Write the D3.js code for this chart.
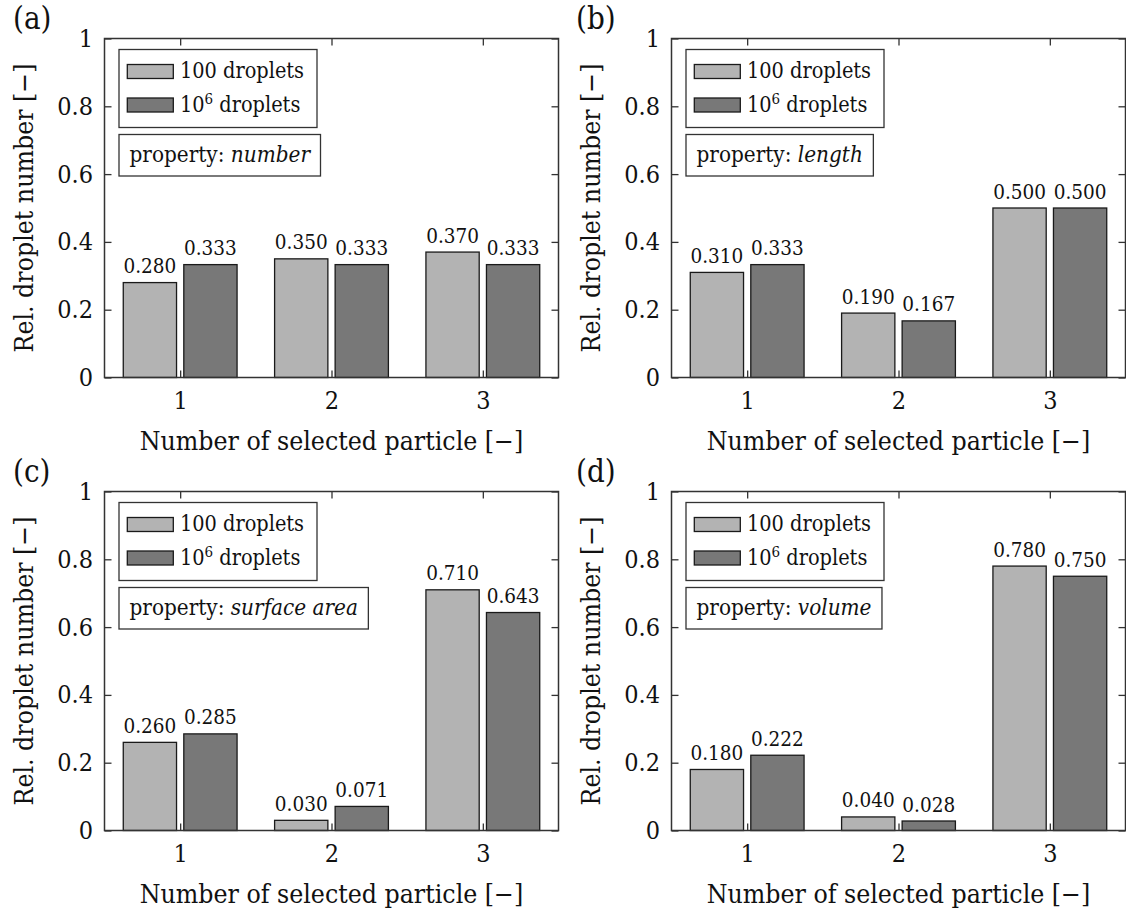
<!DOCTYPE html>
<html>
<head>
<meta charset="utf-8">
<script src="https://cdn.jsdelivr.net/npm/d3@7"></script>
<style>
  html, body { margin: 0; padding: 0; background: #fff; }
  svg { display: block; }
  text { font-family: "DejaVu Serif Condensed", "DejaVu Serif", serif; font-stretch: condensed; fill: #111; }
</style>
</head>
<body>
<svg id="chart" width="1126" height="914"></svg>
<script>
// Selected particle index (x categories)
const categories = [1, 2, 3];
// Tick values
const yTicks = [0, 0.2, 0.4, 0.6, 0.8, 1];
const seriesNames = ["100 droplets", "10^6 droplets"];

// Panel data: relative droplet number for each weighting property
const panelLetters = ["(a)", "(b)", "(c)", "(d)"];
const properties = ["number", "length", "surface area", "volume"];
const drops100 = [
  [0.280, 0.350, 0.370],
  [0.310, 0.190, 0.500],
  [0.260, 0.030, 0.710],
  [0.180, 0.040, 0.780]
];
const drops1e6 = [
  [0.333, 0.333, 0.333],
  [0.333, 0.167, 0.500],
  [0.285, 0.071, 0.643],
  [0.222, 0.028, 0.750]
];

const colors = ["#b3b3b3", "#787878"];

const W = 454, H = 339;
const lefts = [104.5, 671.5], tops = [38.5, 491.5];
const letterX = [13, 576];

const svg = d3.select("#chart");

function panel(idx) {
  const col = idx % 2, row = Math.floor(idx / 2);
  const ox = lefts[col], oy = tops[row];
  const g = svg.append("g").attr("transform", `translate(${ox},${oy})`);

  const x = d3.scaleLinear().domain([0.5, 3.5]).range([0, W]);
  const y = d3.scaleLinear().domain([0, 1]).range([H, 0]);

  // ticks (inward on all four sides)
  const styleAxis = sel => {
    sel.select(".domain").remove();
    sel.selectAll(".tick line").attr("stroke", "#333").attr("stroke-width", 1.3);
    sel.selectAll("text").attr("font-family", null).attr("fill", "#111");
  };
  g.append("g")
    .call(d3.axisLeft(y).tickValues(yTicks).tickSize(-7).tickPadding(11.5).tickFormat(d => String(d)))
    .call(styleAxis)
    .selectAll("text").attr("font-size", 25);
  g.append("g").attr("transform", `translate(${W},0)`)
    .call(d3.axisRight(y).tickValues(yTicks).tickSize(-7).tickFormat(""))
    .call(styleAxis);
  g.append("g")
    .call(d3.axisTop(x).tickValues(categories).tickSize(-7).tickFormat(""))
    .call(styleAxis);
  g.append("g").attr("transform", `translate(0,${H})`)
    .call(d3.axisBottom(x).tickValues(categories).tickSize(-7).tickPadding(14).tickFormat(d => String(d)))
    .call(styleAxis)
    .selectAll("text").attr("font-size", 25);

  // bars
  const bw = 0.352, off = 0.2;
  const series = [drops100[idx], drops1e6[idx]];
  series.forEach((vals, s) => {
    const cx = c => c + (s === 0 ? -off : off);
    const bars = g.append("g");
    bars.selectAll("rect").data(categories).join("rect")
      .attr("x", (c) => x(cx(c) - bw / 2))
      .attr("width", x(bw) - x(0))
      .attr("y", (c, i) => y(vals[i]))
      .attr("height", (c, i) => y(0) - y(vals[i]))
      .attr("fill", colors[s])
      .attr("stroke", "#1a1a1a")
      .attr("stroke-width", 1.3);
    bars.selectAll("text").data(categories).join("text")
      .attr("x", c => x(cx(c)))
      .attr("y", (c, i) => y(vals[i]) - 9.5)
      .attr("text-anchor", "middle")
      .attr("font-size", 20.5)
      .text((c, i) => vals[i].toFixed(3));
  });

  // frame
  g.append("rect").attr("width", W).attr("height", H)
    .attr("fill", "none").attr("stroke", "#333").attr("stroke-width", 1.5);

  // legend
  const lg = g.append("g").attr("transform", "translate(14.5,11)");
  lg.append("rect").attr("width", 198).attr("height", 78)
    .attr("fill", "#fff").attr("stroke", "#333").attr("stroke-width", 1.3);
  const rowsY = [15, 48.5];
  seriesNames.forEach((name, s) => {
    lg.append("rect").attr("x", 8.3).attr("y", rowsY[s]).attr("width", 46).attr("height", 14)
      .attr("fill", colors[s]).attr("stroke", "#1a1a1a").attr("stroke-width", 1.3);
    const t = lg.append("text").attr("x", 61).attr("y", rowsY[s] + 13.5).attr("font-size", 21.5);
    if (name.includes("^")) {
      const [base, rest] = name.split("^");
      const exp = rest.split(" ")[0];
      const tail = rest.slice(exp.length);
      t.append("tspan").text(base);
      t.append("tspan").attr("dy", -8).attr("font-size", 15).text(exp);
      t.append("tspan").attr("dy", 8).text(tail);
    } else {
      t.text(name);
    }
  });

  // property box
  const pg = g.append("g").attr("transform", "translate(14.5,96)");
  const pr = pg.append("rect").attr("height", 41.5)
    .attr("fill", "#fff").attr("stroke", "#333").attr("stroke-width", 1.3);
  const pt = pg.append("text").attr("x", 10.5).attr("y", 27).attr("font-size", 22.3);
  pt.append("tspan").text("property: ");
  pt.append("tspan").attr("font-style", "italic").text(properties[idx]);
  pr.attr("width", pt.node().getComputedTextLength() + 21);

  // axis titles
  g.append("text").attr("x", W / 2).attr("y", H + 72.5)
    .attr("text-anchor", "middle").attr("font-size", 26.4)
    .text("Number of selected particle [\u2212]");
  g.append("text")
    .attr("transform", `translate(-71.5,${H / 2}) rotate(-90)`)
    .attr("text-anchor", "middle").attr("font-size", 26.4)
    .text("Rel. droplet number [\u2212]");

  // panel letter
  svg.append("text").attr("x", letterX[col]).attr("y", oy - 10)
    .attr("font-size", 31).text(panelLetters[idx]);
}

[0, 1, 2, 3].forEach(panel);
</script>
</body>
</html>
